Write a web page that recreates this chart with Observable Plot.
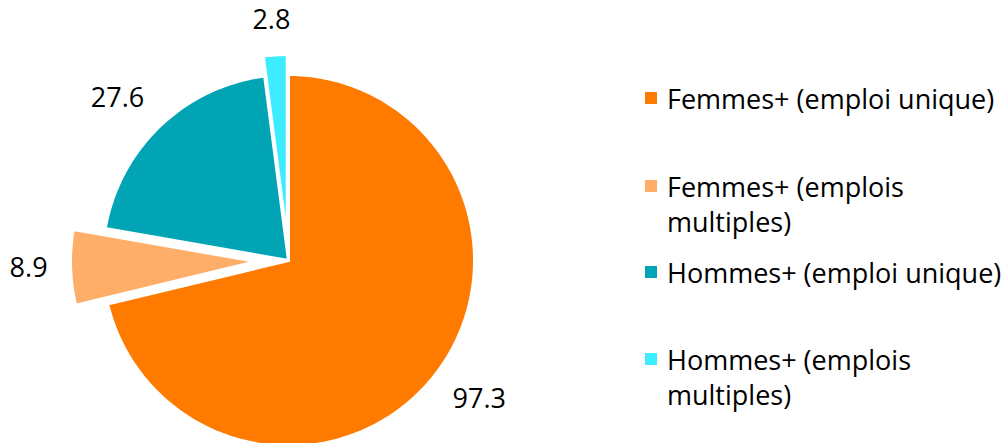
<!DOCTYPE html>
<html><head><meta charset="utf-8">
<script src="https://cdn.jsdelivr.net/npm/d3@7"></script>
<script src="https://cdn.jsdelivr.net/npm/@observablehq/plot@0.6"></script>
<style>
body{margin:0;background:#fff;font-family:"Open Sans",sans-serif;}
#wrap{position:relative;width:1005px;height:443px;overflow:hidden}
#legend{position:absolute;left:645px;top:0;width:360px;height:443px}
.item{position:absolute;left:0;display:flex;align-items:flex-start;font-size:27px;line-height:35px;color:#000}
.sw{width:12px;height:12px;margin-top:11.5px;margin-right:10px;flex:none}
.tx{width:348px}
</style></head><body>
<div id="wrap"><div id="chart"></div><div id="legend"></div></div>
<script>
const categories = ["Femmes+ (emploi unique)", "Femmes+ (emplois multiples)", "Hommes+ (emploi unique)", "Hommes+ (emplois multiples)"];
const values = [97.3, 8.9, 27.6, 2.8];
const valueLabels = ["97.3", "8.9", "27.6", "2.8"];
const colors = ["#ff7b00", "#ffae69", "#00a4b4", "#3decff"];

// layout (pixels)
const R = 186, cx = 288, cy = 260;
const explode = [0, 32, 0, 20];
const W = 1005, H = 443, FS = 27;
const clamp = v => Math.max(-1, Math.min(1, v));

const arcs = d3.pie().sort(null).value(d => d)(values);
const polys = [];
const labelPts = [];
arcs.forEach((a, i) => {
  const mid = (a.startAngle + a.endAngle) / 2;
  const s = Math.sin(mid), c = Math.cos(mid);
  const ox = explode[i] * s, oy = explode[i] * c;
  polys.push({cat: categories[i], x: ox, y: oy});
  const n = Math.max(2, Math.ceil((a.endAngle - a.startAngle) / (Math.PI / 180)));
  for (let k = 0; k <= n; k++) {
    const t = a.startAngle + (a.endAngle - a.startAngle) * k / n;
    polys.push({cat: categories[i], x: ox + R * Math.sin(t), y: oy + R * Math.cos(t)});
  }
  const txt = valueLabels[i];
  const w = (txt.replace(".", "").length * 0.572 + 0.266) * FS - 2;
  const h = 19;
  const d = R + explode[i] + 24;
  labelPts.push({
    text: txt,
    x: d * s + clamp(2 * s) * w / 2,
    y: d * c + clamp(2 * c) * h / 2 + 1
  });
});

const chart = Plot.plot({
  width: W, height: H, margin: 0,
  x: {domain: [-cx, W - cx], axis: null},
  y: {domain: [-(H - cy), cy], axis: null},
  color: {domain: categories, range: colors},
  style: {background: "white"},
  marks: [
    Plot.line(polys, {x: "x", y: "y", z: "cat", fill: "cat", stroke: "white", strokeWidth: 3, curve: "linear-closed"}),
    Plot.text(labelPts, {x: "x", y: "y", text: "text", fontSize: FS, fontFamily: "Open Sans", fill: "black", textAnchor: "middle", lineAnchor: "middle"})
  ]
});
document.getElementById("chart").appendChild(chart);

const legendTops = [80.5, 168.5, 254.5, 341.5];
const lg = document.getElementById("legend");
categories.forEach((c, i) => {
  const it = document.createElement("div");
  it.className = "item";
  it.style.top = legendTops[i] + "px";
  const sw = document.createElement("div");
  sw.className = "sw"; sw.style.background = colors[i];
  const tx = document.createElement("div");
  tx.className = "tx"; tx.textContent = c;
  it.appendChild(sw); it.appendChild(tx);
  lg.appendChild(it);
});
</script>
</body></html>
